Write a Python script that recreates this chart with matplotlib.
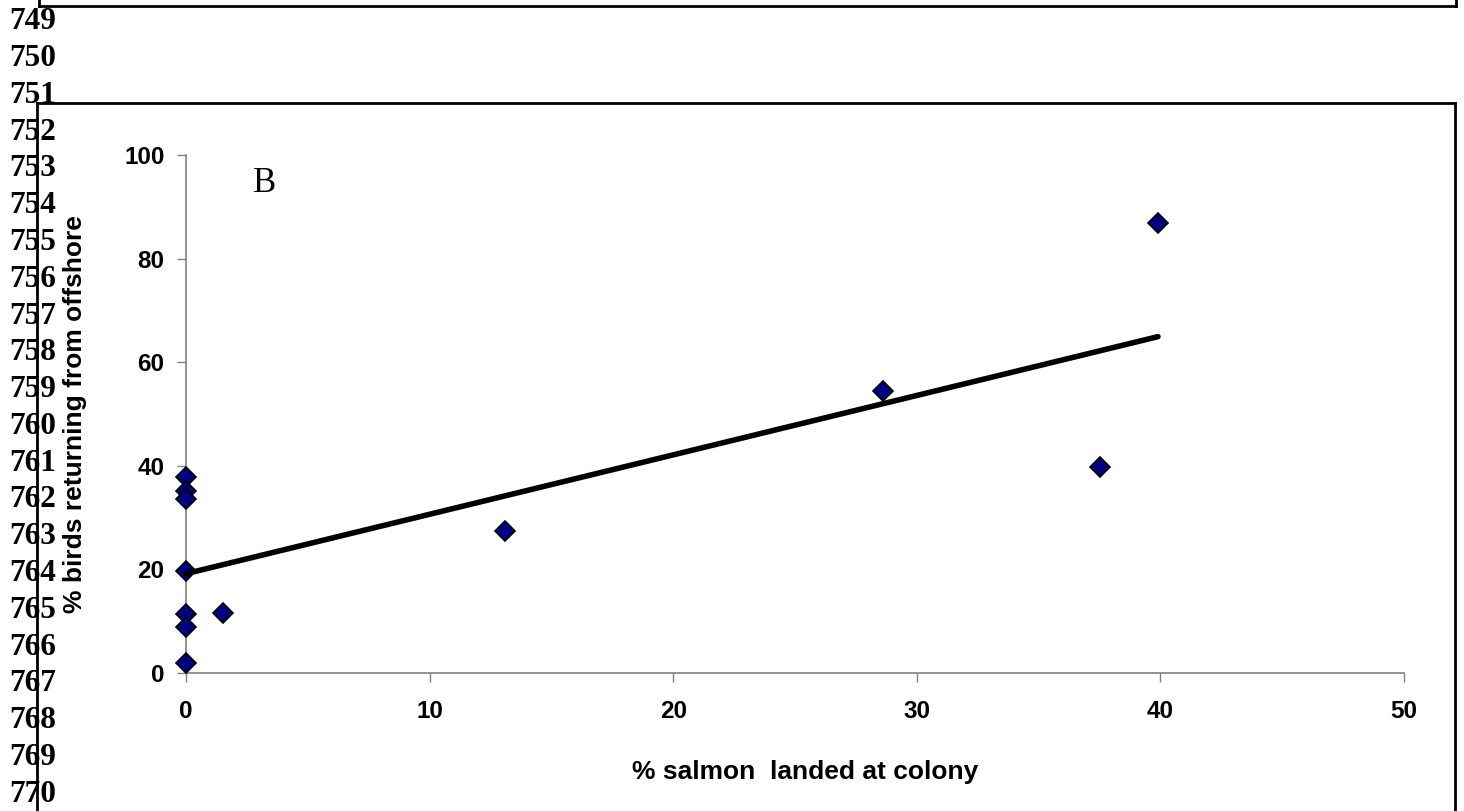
import numpy as np
import matplotlib
matplotlib.use("Agg")
import matplotlib.pyplot as plt
from matplotlib.lines import Line2D

# ---- data ----
salmon_pct = [0, 0, 0, 0, 0, 0, 0, 1.5, 13.1, 28.6, 37.5, 39.9]
offshore_pct = [37.9, 35.2, 33.5, 19.7, 11.3, 8.9, 1.9, 11.6, 27.4, 54.4, 39.7, 86.9]
x_ticks = [0, 10, 20, 30, 40, 50]
y_ticks = [0, 20, 40, 60, 80, 100]
line_numbers = list(range(749, 771))
panel_label = "B"
x_label = "% salmon  landed at colony"
y_label = "% birds returning from offshore"

W, H = 1464, 811
fig = plt.figure(figsize=(W / 100, H / 100), dpi=100)

def fx(px):
    return px / W

def fy(py):
    return 1 - py / H

left, right, top, bottom = 186, 1404, 155, 673
ax = fig.add_axes([fx(left), fy(bottom), fx(right) - fx(left), fy(top) - fy(bottom)])

sans = "Liberation Sans"
serif = "Liberation Serif"

ax.plot(salmon_pct, offshore_pct, linestyle="none", marker="D", markersize=10.5,
        markerfacecolor="#000080", markeredgecolor="black", markeredgewidth=1.2,
        clip_on=False, zorder=3)

slope, intercept = np.polyfit(salmon_pct, offshore_pct, 1)
xs = np.array([min(salmon_pct), max(salmon_pct)])
ax.plot(xs, slope * xs + intercept, color="black", linewidth=4,
        solid_capstyle="round", clip_on=False, zorder=4)

ax.set_xlim(0, 50)
ax.set_ylim(0, 100)
ax.set_xticks(x_ticks)
ax.set_yticks(y_ticks)
ax.set_xticklabels([str(v) for v in x_ticks], fontfamily=sans, fontweight="bold", fontsize=17.5)
ax.set_yticklabels([str(v) for v in y_ticks], fontfamily=sans, fontweight="bold", fontsize=17.5)
ax.tick_params(axis="both", direction="out", length=6.5, width=1, color="#808080")
ax.tick_params(axis="y", pad=9)
ax.tick_params(axis="x", pad=13)
for s in ["top", "right"]:
    ax.spines[s].set_visible(False)
for s in ["left", "bottom"]:
    ax.spines[s].set_color("#808080")
    ax.spines[s].set_linewidth(1.2)

ax.set_xlabel(x_label, fontfamily=sans, fontweight="bold", fontsize=19)
ax.xaxis.label.set_verticalalignment("center")
ax.xaxis.set_label_coords((805 - left) / (right - left), (bottom - 772) / (bottom - top))
ax.set_ylabel(y_label, fontfamily=sans, fontweight="bold", fontsize=19)
ax.yaxis.label.set_verticalalignment("center")
ax.yaxis.set_label_coords((75 - left) / (right - left), 0.5)

ax.text((265 - left) / (right - left), (bottom - 183) / (bottom - top), panel_label,
        transform=ax.transAxes, ha="center", va="center", fontfamily=serif, fontsize=25)

# line numbers
for i, n in enumerate(line_numbers):
    fig.text(fx(9), fy(29.3 + 36.78 * i), str(n), ha="left", va="baseline",
             fontfamily=serif, fontweight="bold", fontsize=22.5)

# document frame lines
lw = 2.0
fig.add_artist(Line2D([fx(39), fx(1456)], [fy(6), fy(6)], color="black", lw=lw))
fig.add_artist(Line2D([fx(39), fx(39)], [fy(0), fy(6)], color="black", lw=lw))
fig.add_artist(Line2D([fx(1456), fx(1456)], [fy(0), fy(6)], color="black", lw=lw))
fig.add_artist(Line2D([fx(37), fx(1455)], [fy(103), fy(103)], color="black", lw=lw))
fig.add_artist(Line2D([fx(37), fx(37)], [fy(103), fy(811)], color="black", lw=lw))
fig.add_artist(Line2D([fx(1455), fx(1455)], [fy(103), fy(811)], color="black", lw=lw))

fig.savefig("out.png", dpi=100)
